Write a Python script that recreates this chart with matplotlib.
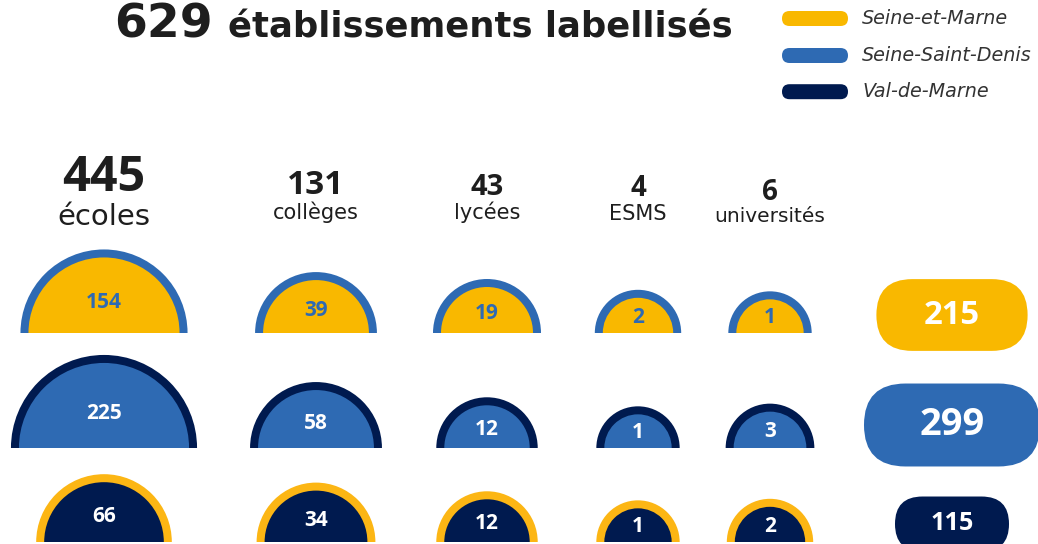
import matplotlib
matplotlib.use("Agg")
import matplotlib.pyplot as plt
from matplotlib.patches import Wedge, FancyBboxPatch
import numpy as np

# --- data -----------------------------------------------------------------
categories = ["écoles", "collèges", "lycées", "ESMS", "universités"]
departments = ["Seine-et-Marne", "Seine-Saint-Denis", "Val-de-Marne"]
seine_et_marne = [154, 39, 19, 2, 1]
seine_saint_denis = [225, 58, 12, 1, 3]
val_de_marne = [66, 34, 12, 1, 2]

# --- style / layout ---------------------------------------------------------
YELLOW = "#F9B800"
YELLOW_RING = "#FCB614"
BLUE = "#2E6AB3"
NAVY = "#001A4F"
INK = "#1E1E1E"
WORD_FONT = ["DejaVu Sans"]
NUM_FONT = ["Open Sans", "DejaVu Sans"]

# (fill, outline, label colour) per department
DEPT_STYLE = [(YELLOW, BLUE, BLUE), (BLUE, NAVY, "white"), (NAVY, YELLOW_RING, "white")]
COL_X = [104, 316, 487, 638, 770]
ROW_BASE = [333, 448, 542]
HEAD_NUM_SIZE = [35, 24, 21, 20, 20]
HEAD_LAB_SIZE = [21, 15, 15, 15, 14.5]
HEAD_NUM_Y = [191, 194, 195, 196, 200]
HEAD_LAB_Y = [225, 219, 219, 220, 222]
LEGEND_Y = [18.5, 55.5, 91.7]
PILL_X = 952
PILL_Y = [315, 425, 524]
STROKE = 8


def radius(v):
    return 38 + 3.67 * np.sqrt(v)


rows = [seine_et_marne, seine_saint_denis, val_de_marne]
cat_totals = [sum(c) for c in zip(*rows)]
dept_totals = [sum(r) for r in rows]
grand_total = sum(dept_totals)

fig = plt.figure(figsize=(10.38, 5.44), dpi=100)
ax = fig.add_axes([0, 0, 1, 1])
ax.set_xlim(0, 1038)
ax.set_ylim(544, 0)
ax.axis("off")

# title
ax.text(114, 37, f"{grand_total}", fontsize=34, weight="bold", color=INK,
        family=WORD_FONT, ha="left", va="baseline")
ax.text(228, 37, "établissements labellisés", fontsize=25.5, weight="bold",
        color=INK, family=WORD_FONT, ha="left", va="baseline")

# legend
for i, (name, st) in enumerate(zip(departments, DEPT_STYLE)):
    yc = LEGEND_Y[i]
    ax.add_patch(FancyBboxPatch((782, yc - 7.5), 66, 15,
                                boxstyle="round,pad=0,rounding_size=7.5",
                                facecolor=st[0], edgecolor="none"))
    ax.text(862, yc, name, fontsize=13.8, style="italic", color="#333333",
            family=WORD_FONT, ha="left", va="center")

# column headers
for j, cat in enumerate(categories):
    ax.text(COL_X[j], HEAD_NUM_Y[j], f"{cat_totals[j]}", fontsize=HEAD_NUM_SIZE[j],
            weight="bold", color=INK, family=NUM_FONT, ha="center", va="baseline")
    ax.text(COL_X[j], HEAD_LAB_Y[j], cat, fontsize=HEAD_LAB_SIZE[j],
            color=INK, family=WORD_FONT, ha="center", va="baseline")

# half-discs
for i, vals in enumerate(rows):
    fill, edge, tc = DEPT_STYLE[i]
    base = ROW_BASE[i]
    for j, v in enumerate(vals):
        r = radius(v)
        cx = COL_X[j]
        ax.add_patch(Wedge((cx, base), r, 180, 360, facecolor=edge, edgecolor="none"))
        ax.add_patch(Wedge((cx, base), r - STROKE, 180, 360, facecolor=fill,
                           edgecolor="none"))
        ax.text(cx, base - 0.37 * r, f"{v}", fontsize=15, weight="bold", color=tc,
                family=NUM_FONT, ha="center", va="center")

# department totals
for i, tot in enumerate(dept_totals):
    h = 9.3 + 4.26 * np.sqrt(tot)
    w = 12.8 + 9.44 * np.sqrt(tot)
    ax.add_patch(FancyBboxPatch((PILL_X - w / 2, PILL_Y[i] - h / 2), w, h,
                                boxstyle=f"round,pad=0,rounding_size={h / 2}",
                                facecolor=DEPT_STYLE[i][0], edgecolor="none"))
    ax.text(PILL_X, PILL_Y[i], f"{tot}", fontsize=h * 0.33, weight="bold",
            color="white", family=NUM_FONT, ha="center", va="center")

fig.savefig("out.png", dpi=100)
